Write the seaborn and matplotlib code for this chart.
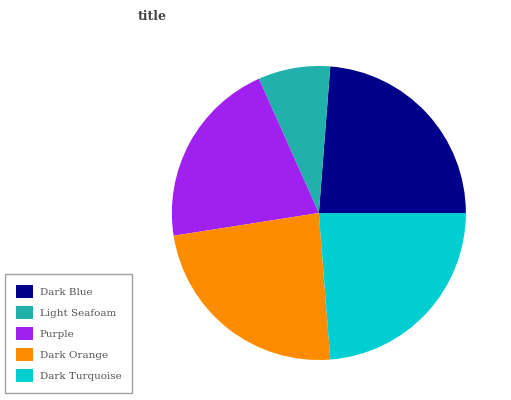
import matplotlib
matplotlib.use("Agg")
import matplotlib.pyplot as plt
from matplotlib.patches import Patch
import seaborn as sns

# data
labels = ["Dark Blue", "Light Seafoam", "Purple", "Dark Orange", "Dark Turquoise"]
values = [24, 8, 21, 24, 24]
colors = ["#00008B", "#20B2AA", "#A020F0", "#FF8C00", "#00CED1"]

sns.set_theme(style="white")
plt.rcParams["font.family"] = ["DejaVu Serif", "DejaVu Sans"]

fig = plt.figure(figsize=(5.11, 4.0), dpi=100)
ax = fig.add_axes([0.624 - 0.2877, 0.4675 - 0.3675, 0.5754, 0.735])
ax.pie(values, colors=sns.color_palette(colors), startangle=0,
       counterclock=True, wedgeprops={"linewidth": 0})
ax.set_xlim(-1, 1)
ax.set_ylim(-1, 1)
ax.set_aspect("equal")
ax.axis("off")

fig.text(152 / 511, 1 - 17 / 400, "title", ha="center", va="center",
         fontsize=9, fontweight="bold", color="#444444")

handles = [Patch(facecolor=c, edgecolor="none") for c in colors]
leg = fig.legend(handles, labels, loc="lower left", bbox_to_anchor=(0.0, 0.005),
                 fontsize=7.5, frameon=True, fancybox=False, handlelength=1.65,
                 handleheight=1.65, labelspacing=0.7, borderpad=1.0,
                 handletextpad=0.65, labelcolor="#555555")
leg.get_frame().set_edgecolor("#888888")
leg.get_frame().set_linewidth(1.0)

fig.savefig("out.png", dpi=100, facecolor="white")
